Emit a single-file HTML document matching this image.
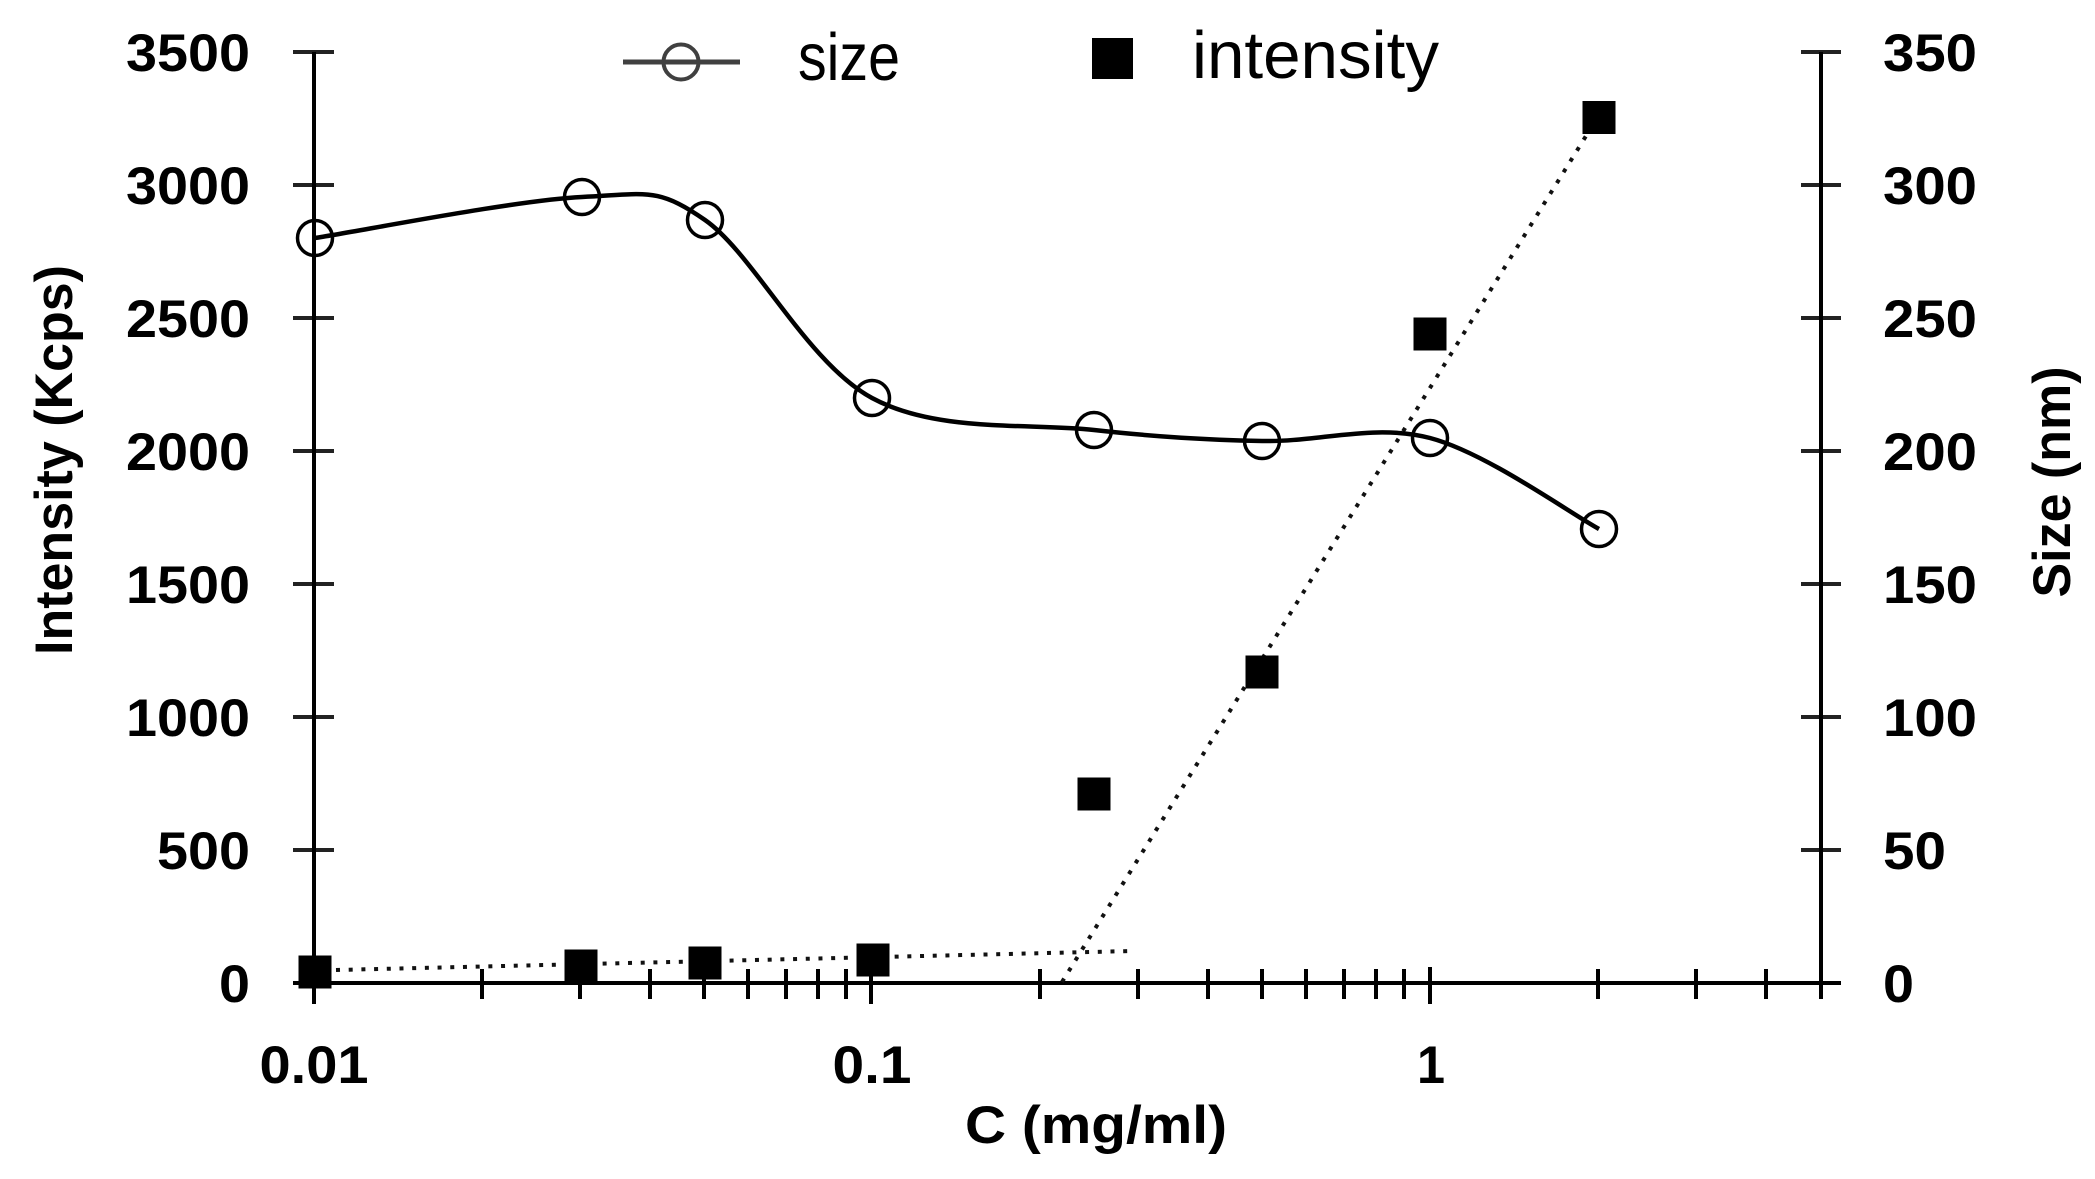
<!DOCTYPE html>
<html>
<head>
<meta charset="utf-8">
<style>
html,body{margin:0;padding:0;background:#fff;}
body{width:2095px;height:1179px;overflow:hidden;}
svg{display:block;}
text{font-family:"Liberation Sans",Arial,sans-serif;fill:#000;}
.b{font-weight:bold;font-size:53px;}
.r{font-weight:normal;font-size:67px;}
</style>
</head>
<body>
<svg width="2095" height="1179" viewBox="0 0 2095 1179" xmlns="http://www.w3.org/2000/svg">
<rect x="0" y="0" width="2095" height="1179" fill="#fff"/>

<!-- left y ticks -->
<g stroke="#222" stroke-width="4">
<line x1="293" y1="52" x2="334" y2="52"/>
<line x1="293" y1="185" x2="334" y2="185"/>
<line x1="293" y1="318" x2="334" y2="318"/>
<line x1="293" y1="451" x2="334" y2="451"/>
<line x1="293" y1="584" x2="334" y2="584"/>
<line x1="293" y1="717" x2="334" y2="717"/>
<line x1="293" y1="850" x2="334" y2="850"/>
<!-- right y ticks -->
<line x1="1801" y1="52" x2="1841" y2="52"/>
<line x1="1801" y1="185" x2="1841" y2="185"/>
<line x1="1801" y1="318" x2="1841" y2="318"/>
<line x1="1801" y1="451" x2="1841" y2="451"/>
<line x1="1801" y1="584" x2="1841" y2="584"/>
<line x1="1801" y1="717" x2="1841" y2="717"/>
<line x1="1801" y1="850" x2="1841" y2="850"/>
</g>

<!-- axes -->
<g stroke="#000" stroke-width="4">
<line x1="314" y1="52" x2="314" y2="1004"/>
<line x1="1821" y1="52" x2="1821" y2="999"/>
<line x1="293" y1="983" x2="1841" y2="983"/>
</g>

<!-- x ticks -->
<g stroke="#000" stroke-width="4">
<line x1="871" y1="967" x2="871" y2="1004"/>
<line x1="1430" y1="967" x2="1430" y2="1004"/>
<line x1="482" y1="969" x2="482" y2="999"/>
<line x1="580" y1="969" x2="580" y2="999"/>
<line x1="650" y1="969" x2="650" y2="999"/>
<line x1="704" y1="969" x2="704" y2="999"/>
<line x1="748" y1="969" x2="748" y2="999"/>
<line x1="786" y1="969" x2="786" y2="999"/>
<line x1="818" y1="969" x2="818" y2="999"/>
<line x1="846" y1="969" x2="846" y2="999"/>
<line x1="1040" y1="969" x2="1040" y2="999"/>
<line x1="1138" y1="969" x2="1138" y2="999"/>
<line x1="1208" y1="969" x2="1208" y2="999"/>
<line x1="1262" y1="969" x2="1262" y2="999"/>
<line x1="1306" y1="969" x2="1306" y2="999"/>
<line x1="1344" y1="969" x2="1344" y2="999"/>
<line x1="1376" y1="969" x2="1376" y2="999"/>
<line x1="1404" y1="969" x2="1404" y2="999"/>
<line x1="1598" y1="969" x2="1598" y2="999"/>
<line x1="1696" y1="969" x2="1696" y2="999"/>
<line x1="1766" y1="969" x2="1766" y2="999"/>
</g>

<!-- left tick labels -->
<g class="b" text-anchor="end">
<text x="250" y="71" textLength="124" lengthAdjust="spacingAndGlyphs">3500</text>
<text x="250" y="204" textLength="124" lengthAdjust="spacingAndGlyphs">3000</text>
<text x="250" y="337" textLength="124" lengthAdjust="spacingAndGlyphs">2500</text>
<text x="250" y="470" textLength="124" lengthAdjust="spacingAndGlyphs">2000</text>
<text x="250" y="603" textLength="124" lengthAdjust="spacingAndGlyphs">1500</text>
<text x="250" y="736" textLength="124" lengthAdjust="spacingAndGlyphs">1000</text>
<text x="250" y="869" textLength="93" lengthAdjust="spacingAndGlyphs">500</text>
<text x="250" y="1002" textLength="31" lengthAdjust="spacingAndGlyphs">0</text>
</g>

<!-- right tick labels -->
<g class="b" text-anchor="start">
<text x="1883" y="71" textLength="94" lengthAdjust="spacingAndGlyphs">350</text>
<text x="1883" y="204" textLength="94" lengthAdjust="spacingAndGlyphs">300</text>
<text x="1883" y="337" textLength="94" lengthAdjust="spacingAndGlyphs">250</text>
<text x="1883" y="470" textLength="94" lengthAdjust="spacingAndGlyphs">200</text>
<text x="1883" y="603" textLength="94" lengthAdjust="spacingAndGlyphs">150</text>
<text x="1883" y="736" textLength="94" lengthAdjust="spacingAndGlyphs">100</text>
<text x="1883" y="869" textLength="63" lengthAdjust="spacingAndGlyphs">50</text>
<text x="1883" y="1002" textLength="31" lengthAdjust="spacingAndGlyphs">0</text>
</g>

<!-- x tick labels -->
<g class="b" text-anchor="middle">
<text x="314" y="1083" textLength="109" lengthAdjust="spacingAndGlyphs">0.01</text>
<text x="872" y="1083" textLength="79" lengthAdjust="spacingAndGlyphs">0.1</text>
<text x="1431" y="1083" textLength="28" lengthAdjust="spacingAndGlyphs">1</text>
</g>

<!-- axis titles -->
<text class="b" x="1096" y="1143" text-anchor="middle" textLength="262" lengthAdjust="spacingAndGlyphs">C (mg/ml)</text>
<text class="b" transform="translate(72,460) rotate(-90)" x="0" y="0" text-anchor="middle" textLength="390" lengthAdjust="spacingAndGlyphs">Intensity (Kcps)</text>
<text class="b" transform="translate(2070,482) rotate(-90)" x="0" y="0" text-anchor="middle" textLength="231" lengthAdjust="spacingAndGlyphs">Size (nm)</text>

<!-- dotted trend lines -->
<g stroke="#111" stroke-width="4" stroke-dasharray="4 8.7" fill="none">
<line x1="336" y1="970" x2="1132" y2="951"/>
<line x1="1062" y1="982" x2="1599" y2="115"/>
</g>

<!-- size curve -->
<path d="M315,238 C359.5,231.2 517,200 582,197 C647,194 656.7,186.5 705,220 C753.3,253.5 807.2,363 872,398 C936.8,433 1029,422.8 1094,430 C1159,437.2 1206,439.7 1262,441 C1318,442.3 1373.8,423.3 1430,438 C1486.2,452.7 1570.8,513.8 1599,529" fill="none" stroke="#000" stroke-width="4.5"/>

<!-- size markers -->
<g fill="none" stroke="#000" stroke-width="3.5">
<circle cx="315" cy="238" r="17.5"/>
<circle cx="582" cy="197" r="17.5"/>
<circle cx="705" cy="220" r="17.5"/>
<circle cx="872" cy="398" r="17.5"/>
<circle cx="1094" cy="430" r="17.5"/>
<circle cx="1262" cy="441" r="17.5"/>
<circle cx="1430" cy="438" r="17.5"/>
<circle cx="1599" cy="529" r="17.5"/>
</g>

<!-- intensity markers -->
<g fill="#000">
<rect x="298.5" y="955.5" width="33" height="33"/>
<rect x="564.5" y="949.5" width="33" height="33"/>
<rect x="688.5" y="946.5" width="33" height="33"/>
<rect x="856.5" y="943.5" width="33" height="33"/>
<rect x="1077.5" y="777.5" width="33" height="33"/>
<rect x="1245.5" y="655.5" width="33" height="33"/>
<rect x="1413.5" y="317.5" width="33" height="33"/>
<rect x="1582.5" y="101" width="33" height="33"/>
</g>

<!-- legend -->
<line x1="623" y1="62" x2="740" y2="62" stroke="#404040" stroke-width="5"/>
<circle cx="681" cy="62" r="17.5" fill="none" stroke="#404040" stroke-width="4"/>
<text class="r" x="798" y="80" textLength="102" lengthAdjust="spacingAndGlyphs">size</text>
<rect x="1092" y="38" width="41" height="41" fill="#000"/>
<text class="r" x="1192" y="78" textLength="247" lengthAdjust="spacingAndGlyphs">intensity</text>
</svg>
</body>
</html>
